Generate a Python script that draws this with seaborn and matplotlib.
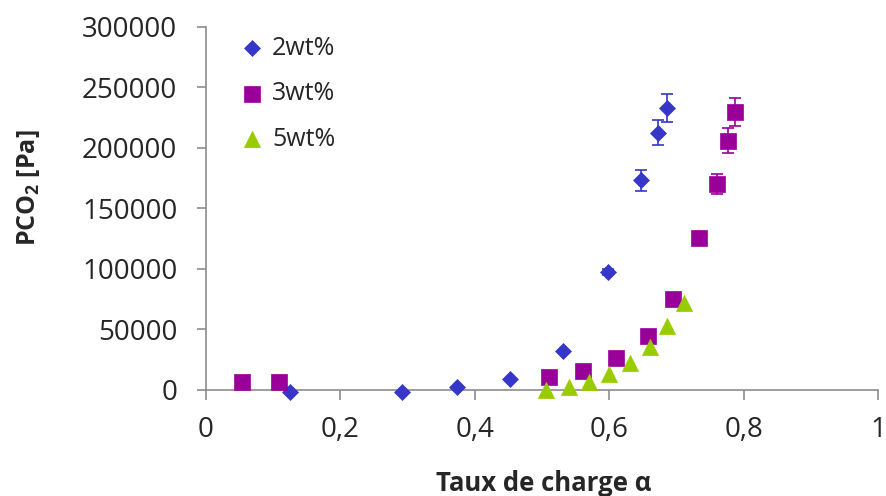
import pandas as pd
import matplotlib
matplotlib.use("Agg")
import matplotlib.pyplot as plt
import seaborn as sns

# 2 wt% series
alpha_2 = [0.126, 0.292, 0.373, 0.452, 0.531, 0.598, 0.647, 0.673, 0.686]
pco2_2 = [-1500, -1500, 2500, 9000, 32000, 97000, 173000, 212500, 233000]
err_2 = [0, 0, 0, 0, 0, 2500, 9000, 10300, 11400]

# 3 wt% series
alpha_3 = [0.054, 0.109, 0.510, 0.561, 0.610, 0.658, 0.695, 0.734, 0.760, 0.777, 0.787]
pco2_3 = [6600, 6600, 11000, 15700, 26400, 44600, 75000, 125600, 170000, 206000, 229700]
err_3 = [0, 0, 0, 0, 0, 0, 0, 0, 8300, 10300, 11400]

# 5 wt% series
alpha_5 = [0.506, 0.540, 0.570, 0.600, 0.631, 0.661, 0.686, 0.711]
pco2_5 = [0, 2500, 6600, 13000, 22000, 35500, 53000, 72000]

labels = ["2wt%", "3wt%", "5wt%"]
colors = {"2wt%": "#3636C8", "3wt%": "#990099", "5wt%": "#99CC00"}
markers = {"2wt%": "D", "3wt%": "s", "5wt%": "^"}
sizes = {"2wt%": 66, "3wt%": 120, "5wt%": 135}

frames = []
for lab, xs, ys in zip(labels, [alpha_2, alpha_3, alpha_5], [pco2_2, pco2_3, pco2_5]):
    frames.append(pd.DataFrame({"alpha": xs, "pco2": ys, "serie": lab}))
df = pd.concat(frames, ignore_index=True)

sns.set_style("white")
plt.rcParams["font.family"] = ["Open Sans", "DejaVu Sans"]
plt.rcParams["mathtext.fontset"] = "custom"
plt.rcParams["mathtext.bf"] = "Open Sans:bold"
plt.rcParams["mathtext.rm"] = "Open Sans"

fig = plt.figure(figsize=(8.87, 4.96), dpi=100)
ax = fig.add_axes([0.232, 0.214, 0.758, 0.732])

# error bars drawn first
for xs, ys, es, lab in [(alpha_2, pco2_2, err_2, "2wt%"), (alpha_3, pco2_3, err_3, "3wt%")]:
    ax.errorbar(xs, ys, yerr=es, fmt="none", ecolor=colors[lab], elinewidth=1.2,
                capsize=4, capthick=1.2, zorder=2)

for lab in labels:
    sub = df[df["serie"] == lab]
    sns.scatterplot(data=sub, x="alpha", y="pco2", ax=ax, color=colors[lab],
                    marker=markers[lab], s=sizes[lab], edgecolor=colors[lab],
                    linewidth=0.5, label=lab, zorder=3, clip_on=False)

ax.set_xlim(0, 1)
ax.set_ylim(0, 300000)
ax.set_xticks([0, 0.2, 0.4, 0.6, 0.8, 1])
ax.set_xticklabels(["0", "0,2", "0,4", "0,6", "0,8", "1"])
ax.set_yticks(range(0, 300001, 50000))
ax.set_yticklabels([str(v) for v in range(0, 300001, 50000)])

for side in ["top", "right"]:
    ax.spines[side].set_visible(False)
for side in ["left", "bottom"]:
    ax.spines[side].set_color("#8c8c8c")
    ax.spines[side].set_linewidth(1.2)

ax.tick_params(axis="x", direction="out", length=7, width=1.2, color="#8c8c8c",
               labelsize=20, pad=12, bottom=True)
ax.tick_params(axis="y", direction="out", length=6.5, width=1.2, color="#8c8c8c",
               labelsize=20, pad=14, left=True)

ax.set_xlabel("Taux de charge \u03b1", fontsize=18.5, fontweight="bold")
ax.set_ylabel(r"PCO$_\mathbf{2}$ [Pa]", fontsize=18, fontweight="bold")
ax.xaxis.set_label_coords(0.503, -0.22)
ax.yaxis.set_label_coords(-0.244, 0.556)

ax.legend(loc="upper left", bbox_to_anchor=(0.05, 0.975), frameon=False, fontsize=18,
          borderpad=0, borderaxespad=0, handlelength=1.0, handletextpad=0.3,
          labelspacing=0.82, markerscale=1.0)

fig.savefig("out.png", dpi=100)
